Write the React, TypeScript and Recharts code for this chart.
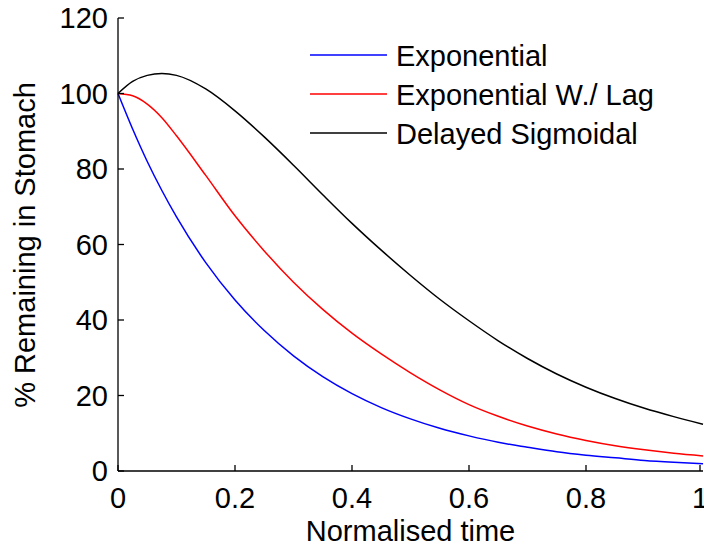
import React from 'react';
import { LineChart, Line, XAxis, YAxis, Legend } from 'recharts';

// normalised time samples
const time = [0, 0.025, 0.05, 0.075, 0.1, 0.15, 0.2, 0.25, 0.3, 0.35, 0.4, 0.45, 0.5, 0.55, 0.6, 0.65, 0.7, 0.75, 0.8, 0.85, 0.9, 0.95, 1];

// % remaining in stomach
const exponential = [100, 90.6, 82.0, 74.3, 67.3, 55.2, 45.3, 37.2, 30.5, 25.0, 20.5, 16.8, 13.8, 11.3, 9.3, 7.6, 6.3, 5.1, 4.2, 3.5, 2.8, 2.3, 1.9];
const expLag = [100, 99.4, 97.2, 93.6, 88.8, 78.3, 67.6, 58.3, 50, 42.8, 36.5, 31, 26, 21.5, 17.6, 14.5, 11.9, 9.8, 8.1, 6.7, 5.6, 4.7, 4];
const sigmoidal = [100, 103.2, 104.8, 105.3, 104.8, 101.2, 95.4, 88.5, 81, 73.2, 65.6, 58.5, 51.8, 45.5, 39.8, 34.5, 29.8, 25.7, 22.2, 19.2, 16.6, 14.4, 12.4];

const seriesNames = ['Exponential', 'Exponential W./ Lag', 'Delayed Sigmoidal'];

const xTicks = [0, 0.2, 0.4, 0.6, 0.8, 1];
const yTicks = [0, 20, 40, 60, 80, 100, 120];

const data = time.map((t, i) => ({
  t,
  exp: exponential[i],
  lag: expLag[i],
  sig: sigmoidal[i],
}));

const FONT = '"Liberation Sans", Arial, Helvetica, sans-serif';
const FS = 29;
const TICK = 6;
const AXIS = { stroke: '#000', strokeWidth: 1.3 };

const BottomTick = (props: any) => {
  const { x, y, payload } = props;
  return (
    <g>
      <line x1={x} y1={y} x2={x} y2={y - TICK} stroke="#000" strokeWidth={1.3} />
      <text x={x} y={y + 37} textAnchor="middle" fontFamily={FONT} fontSize={FS} fill="#000">
        {String(payload.value)}
      </text>
    </g>
  );
};

const TopTick = (props: any) => {
  const { x, y } = props;
  return <line x1={x} y1={y} x2={x} y2={y + TICK} stroke="#000" strokeWidth={1.3} />;
};

const LeftTick = (props: any) => {
  const { x, y, payload } = props;
  return (
    <g>
      <line x1={x} y1={y} x2={x + TICK} y2={y} stroke="#000" strokeWidth={1.3} />
      <text x={x - 10} y={y} textAnchor="end" dominantBaseline="central" fontFamily={FONT} fontSize={FS} fill="#000">
        {String(payload.value)}
      </text>
    </g>
  );
};

const RightTick = (props: any) => {
  const { x, y } = props;
  return <line x1={x} y1={y} x2={x - TICK} y2={y} stroke="#000" strokeWidth={1.3} />;
};

// legend keeps plotting order (recharts sorts by name otherwise)
const LegendBox = (props: any) => {
  const items = [...(props.payload || [])].sort(
    (a: any, b: any) => seriesNames.indexOf(a.value) - seriesNames.indexOf(b.value)
  );
  return (
    <svg width={360} height={120}>
      {items.map((p: any, i: number) => {
        const cy = 20 + i * 39;
        return (
          <g key={p.value}>
            <line x1={0} y1={cy} x2={77} y2={cy} stroke={p.color} strokeWidth={1.5} />
            <text x={86} y={cy + 10.5} fontFamily={FONT} fontSize={FS} fill="#000">
              {p.value}
            </text>
          </g>
        );
      })}
    </svg>
  );
};

export default function App() {
  return (
    <div style={{ position: 'fixed', left: 0, top: 0, background: '#fff' }}>
      <LineChart width={704} height={551} data={data} margin={{ top: 18, right: 1, bottom: 0, left: 0 }}>
        <XAxis
          xAxisId="bottom"
          dataKey="t"
          type="number"
          domain={[0, 1]}
          ticks={xTicks}
          height={80}
          tickSize={0}
          tickMargin={0}
          tickLine={false}
          axisLine={AXIS}
          tick={<BottomTick />}
          label={() => (
            <text x={410.5} y={541} textAnchor="middle" fontFamily={FONT} fontSize={FS} fill="#000">
              Normalised time
            </text>
          )}
        />
        <XAxis
          xAxisId="top"
          orientation="top"
          dataKey="t"
          type="number"
          domain={[0, 1]}
          ticks={xTicks}
          height={0}
          tickSize={0}
          tickMargin={0}
          tickLine={false}
          axisLine={AXIS}
          tick={<TopTick />}
        />
        <YAxis
          yAxisId="left"
          type="number"
          domain={[0, 120]}
          ticks={yTicks}
          width={118}
          tickSize={0}
          tickMargin={0}
          tickLine={false}
          axisLine={AXIS}
          tick={<LeftTick />}
          label={() => (
            <text
              x={35}
              y={245}
              transform="rotate(-90 35 245)"
              textAnchor="middle"
              fontFamily={FONT}
              fontSize={FS}
              fill="#000"
            >
              % Remaining in Stomach
            </text>
          )}
        />
        <YAxis
          yAxisId="right"
          orientation="right"
          type="number"
          domain={[0, 120]}
          ticks={yTicks}
          width={0}
          tickSize={0}
          tickMargin={0}
          tickLine={false}
          axisLine={AXIS}
          tick={<RightTick />}
        />
        <Legend
          layout="vertical"
          verticalAlign="middle"
          align="center"
          content={<LegendBox />}
          wrapperStyle={{ position: 'absolute', left: 310, top: 35, width: 360, height: 120 }}
        />
        <Line xAxisId="bottom" yAxisId="left" type="monotone" dataKey="exp" name={seriesNames[0]} stroke="#0000ff" strokeWidth={1.5} dot={false} isAnimationActive={false} />
        <Line xAxisId="bottom" yAxisId="left" type="monotone" dataKey="lag" name={seriesNames[1]} stroke="#ff0000" strokeWidth={1.5} dot={false} isAnimationActive={false} />
        <Line xAxisId="bottom" yAxisId="left" type="monotone" dataKey="sig" name={seriesNames[2]} stroke="#000000" strokeWidth={1.5} dot={false} isAnimationActive={false} />
      </LineChart>
    </div>
  );
}
